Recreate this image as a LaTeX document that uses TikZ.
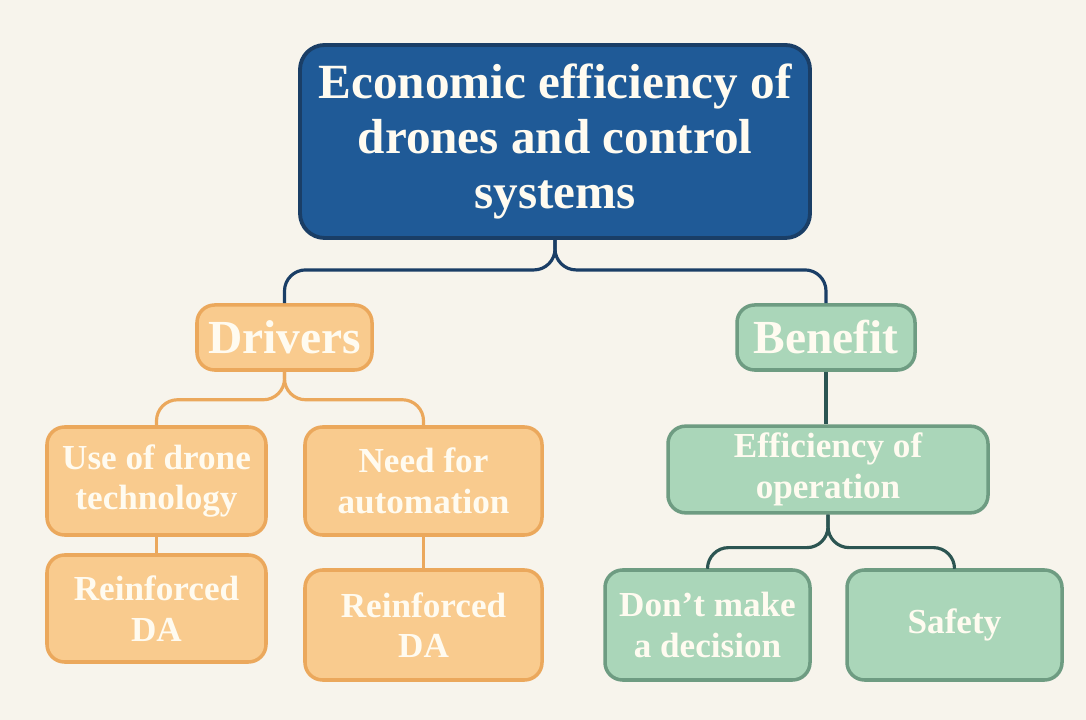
\documentclass[tikz,border=0pt]{standalone}
\usepackage{fontspec}
\setmainfont{Liberation Serif}
\usetikzlibrary{positioning, backgrounds}

\definecolor{paper}{HTML}{F7F4EC}
\definecolor{navyfill}{HTML}{1F5A97}
\definecolor{navyline}{HTML}{1A3E66}
\definecolor{orfill}{HTML}{F9CB8E}
\definecolor{orline}{HTML}{EBA85C}
\definecolor{grfill}{HTML}{AAD6B9}
\definecolor{grline}{HTML}{6E9C82}
\definecolor{tealline}{HTML}{2C5552}
\definecolor{ink}{HTML}{FFFBF0}

\begin{document}
\begin{tikzpicture}[
  font=\bfseries,
  root/.style  ={draw=navyline, fill=navyfill, line width=1.1pt, rounded corners=7pt, align=center,
                 text=ink, inner sep=2pt, font=\fontsize{14}{15.6}\selectfont\bfseries},
  orbox/.style ={draw=orline, fill=orfill, line width=1pt, rounded corners=5pt, align=center,
                 text=ink, inner sep=2pt, font=\fontsize{10}{11.5}\selectfont\bfseries},
  grbox/.style ={draw=grline, fill=grfill, line width=1pt, rounded corners=5pt, align=center,
                 text=ink, inner sep=2pt, font=\fontsize{10}{11.5}\selectfont\bfseries},
  head/.style  ={font=\fontsize{13.5}{15}\selectfont\bfseries},
  link/.style  ={line width=0.9pt, rounded corners=6pt},
]

% ---- paper ----
\fill[paper] (0,0) rectangle (10.86,-7.2);

% ---- root ----
\node[root, minimum width=5.10cm, minimum height=1.93cm] (econ) at (5.55,-1.415)
  {Economic efficiency of\\drones and control\\systems};

% ---- two main branches ----
\node[orbox, head, minimum width=1.75cm, minimum height=0.65cm] (drivers) at (2.845,-3.375) {Drivers};
\node[grbox, head, minimum width=1.78cm, minimum height=0.65cm] (benefit) at (8.26,-3.375) {Benefit};

\draw[link, navyline] (econ.south) -- ++(0,-0.30) -| (drivers.north);
\draw[link, navyline] (econ.south) -- ++(0,-0.30) -| (benefit.north);

% ---- drivers side ----
\node[orbox, minimum width=2.19cm, minimum height=1.08cm] (usedrone) at (1.565,-4.81) {Use of drone\\technology};
\node[orbox, minimum width=2.37cm, minimum height=1.08cm] (automate) at (4.235,-4.81) {Need for\\automation};
\node[orbox, minimum width=2.19cm, minimum height=1.07cm] (reinfA) at (1.565,-6.085) {Reinforced\\DA};
\node[orbox, minimum width=2.37cm, minimum height=1.10cm] (reinfB) at (4.235,-6.25) {Reinforced\\DA};

\draw[link, orline] (drivers.south) -- ++(0,-0.28) -| (usedrone.north);
\draw[link, orline] (drivers.south) -- ++(0,-0.28) -| (automate.north);
\draw[link, orline] (usedrone.south) -- (reinfA.north);
\draw[link, orline] (automate.south) -- (reinfB.north);

% ---- benefit side ----
\node[grbox, minimum width=3.20cm, minimum height=0.85cm] (effop) at (8.28,-4.695) {Efficiency of\\operation};
\node[grbox, minimum width=2.05cm, minimum height=1.10cm] (nodecide) at (7.075,-6.25) {Don't make\\a decision};
\node[grbox, minimum width=2.15cm, minimum height=1.10cm] (safety) at (9.545,-6.25) {Safety};

\draw[link, tealline] (benefit.south) -- (benefit.south |- effop.north);
\draw[link, tealline] (effop.south) -- ++(0,-0.33) -| (nodecide.north);
\draw[link, tealline] (effop.south) -- ++(0,-0.33) -| (safety.north);

\end{tikzpicture}
\end{document}
